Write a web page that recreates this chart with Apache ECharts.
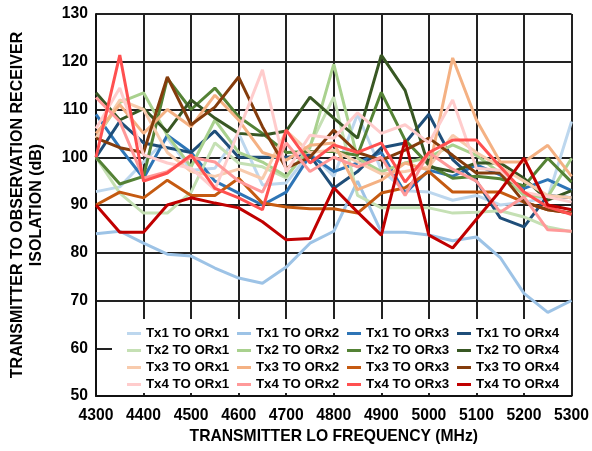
<!DOCTYPE html>
<html><head><meta charset="utf-8">
<script src="https://cdn.jsdelivr.net/npm/echarts@6/dist/echarts.min.js"></script>
<style>html,body{margin:0;padding:0;background:#fff}#c{width:592px;height:451px}</style>
</head><body><div id="c"></div>
<script>
var freqs = [4300,4350,4400,4450,4500,4550,4600,4650,4700,4750,4800,4850,4900,4950,5000,5050,5100,5150,5200,5250,5300];
var seriesNames = ['Tx1 TO ORx1','Tx1 TO ORx2','Tx1 TO ORx3','Tx1 TO ORx4','Tx2 TO ORx1','Tx2 TO ORx2','Tx2 TO ORx3','Tx2 TO ORx4','Tx3 TO ORx1','Tx3 TO ORx2','Tx3 TO ORx3','Tx3 TO ORx4','Tx4 TO ORx1','Tx4 TO ORx2','Tx4 TO ORx3','Tx4 TO ORx4'];
var colors = ['#bdd7ee','#9dc3e6','#2e75b6','#1f4e79','#c5e0b4','#a9d18e','#548235','#385723','#f8cbad','#f4b183','#c55a11','#843c0c','#ffcccc','#ff9999','#ff5050','#c00000'];

var tx1orx1 = [92.8,93.8,99,104,97.3,97.7,105,94.2,94.6,101,96,109,97.3,93,92.7,91,92,90,90.6,91.5,107.5];
var tx1orx2 = [84,84.5,82,79.7,79.3,76.8,74.7,73.6,77,82,84.5,95,84.3,84.3,83.7,82.5,83.3,79,71.5,67.5,70];
var tx1orx3 = [109,102,95.6,104.6,101,95,92.5,90,92.7,100.4,97,98.8,101,92.5,97.3,96,98.4,96.3,93.5,95.3,93];
var tx1orx4 = [100,107.5,103,102,101,105.5,100,100,100,100.4,93.5,97,102,103,109,99.5,95,87.3,85.4,92,91.5];
var tx2orx1 = [100,92.5,88.3,88.3,92.7,103,98.8,98,95.7,102.5,112.6,92,89.4,89.4,89.4,88.3,88.5,88.8,87.5,85.4,84.4];
var tx2orx2 = [104,111.5,113.5,104.6,98,107.8,101,99,96,102,119.5,99.8,97,98.8,100,102.6,100.4,96.7,92,91.7,99.8];
var tx2orx3 = [100,94.4,96,116.5,110,114.5,108.5,105,101,101.2,101.2,100.4,113.6,103.6,98.4,95.6,96,95.5,94,99.8,94.8];
var tx2orx4 = [113.5,107.8,110.2,105.3,112,108.2,105,104.6,105.5,112.6,108.2,104,121.4,114,98,97,98.8,98.8,95.6,91,93];
var tx3orx1 = [104,112,110,101,97,96,97.5,95.5,105.5,101,101.5,99,96.5,97,98,104.6,101,98,95,92,91.5];
var tx3orx2 = [105,111,105,110,106.4,113,107.8,101,99.4,102.5,103,93.2,95.2,98.8,97.3,120.8,107.8,99,99,102.5,96];
var tx3orx3 = [90,92.7,91.5,95.2,92,92,95.6,90.4,89.6,89.2,89.2,88.3,92.5,93.6,97,92.7,92.7,92.7,90.6,89,88.3];
var tx3orx4 = [104,102,101,116.8,106.8,110.5,116.8,106.4,97.7,100,105.7,101,99.4,101.5,104,100.4,96.7,96.7,90.6,89,88.3];
var tx4orx1 = [106,114.5,100.5,98.8,97.7,93.2,105.5,118.3,97,104.6,104,109.3,105,106.8,103,112,97.7,97.3,92.7,91.7,90.6];
var tx4orx2 = [112.5,107.5,95.6,97,100,99,95,92.7,103,97,100,98,100,92,101,97.5,95,88.5,91.7,84.8,84.5];
var tx4orx3 = [100,121.4,95,96.7,100.5,93.5,91.5,89,105.7,98.8,102.6,101,103,94.8,101,103.6,103.6,98,92.7,89.6,88];
var tx4orx4 = [90,84.3,84.3,90,91.5,90.4,89.4,86.5,82.7,83,93.6,88.5,83.7,103.6,83.7,81,87,93,99.8,90,89];

var allValues = [tx1orx1,tx1orx2,tx1orx3,tx1orx4,tx2orx1,tx2orx2,tx2orx3,tx2orx4,tx3orx1,tx3orx2,tx3orx3,tx3orx4,tx4orx1,tx4orx2,tx4orx3,tx4orx4];
var yTicks = [50,60,70,80,90,100,110,120,130];
var xTicks = [4300,4400,4500,4600,4700,4800,4900,5000,5100,5200,5300];

var FONT = 'Liberation Sans, Arial, sans-serif';

var series = allValues.map(function(vals, i){
  return {
    name: seriesNames[i], type: 'line', symbol: 'none', smooth: false,
    data: vals.map(function(v, j){ return [freqs[j], v]; }),
    lineStyle: {color: colors[i], width: 3},
    itemStyle: {color: colors[i]},
    z: 2
  };
});

var legends = [0,1,2,3].map(function(col){
  return {
    orient: 'vertical', left: 122 + col*110, top: 321,
    itemWidth: 14, itemHeight: 3, itemGap: 2, icon: 'rect',
    textStyle: {fontFamily: FONT, fontWeight: 'bold', fontSize: 13.3, color: '#000', lineHeight: 15},
    data: [0,1,2,3].map(function(r){ return seriesNames[r*4 + col]; }),
    selectedMode: false, z: 10
  };
});

var chart = echarts.init(document.getElementById('c'), null, {renderer: 'canvas'});
chart.setOption({
  animation: false,
  color: colors,
  grid: {left: 91, right: 20, top: 14, bottom: 55, containLabel: false},
  xAxis: {
    type: 'value', min: 4300, max: 5300, interval: 100,
    name: 'TRANSMITTER LO FREQUENCY (MHz)', nameLocation: 'middle', nameGap: 33,
    nameTextStyle: {fontFamily: FONT, fontWeight: 'bold', fontSize: 15.7, color: '#000'},
    axisLine: {show: true, lineStyle: {color: '#111', width: 2}},
    axisTick: {show: false},
    axisLabel: {color: '#000', fontSize: 15.7, fontWeight: 'bold', fontFamily: FONT, margin: 12,
      formatter: function(v){ return xTicks.indexOf(v) >= 0 ? String(v) : ''; }},
    splitLine: {show: true, lineStyle: {color: '#222', width: 2}}
  },
  yAxis: {
    type: 'value', min: 50, max: 130, interval: 10,
    name: 'TRANSMITTER TO OBSERVATION RECEIVER\nISOLATION (dB)', nameLocation: 'middle', nameGap: 50, nameRotate: 90,
    nameTextStyle: {fontFamily: FONT, fontWeight: 'bold', fontSize: 16, color: '#000', lineHeight: 19},
    axisLine: {show: true, lineStyle: {color: '#111', width: 2}},
    axisTick: {show: false},
    axisLabel: {color: '#000', fontSize: 15.7, fontWeight: 'bold', fontFamily: FONT, margin: 8,
      formatter: function(v){ return yTicks.indexOf(v) >= 0 ? String(v) : ''; }},
    splitLine: {show: true, lineStyle: {color: '#222', width: 2}}
  },
  graphic: [{type: 'rect', left: 112, top: 319, shape: {width: 459, height: 74}, style: {fill: '#fff'}, z: 5}],
  legend: legends,
  series: series
});
</script></body></html>
